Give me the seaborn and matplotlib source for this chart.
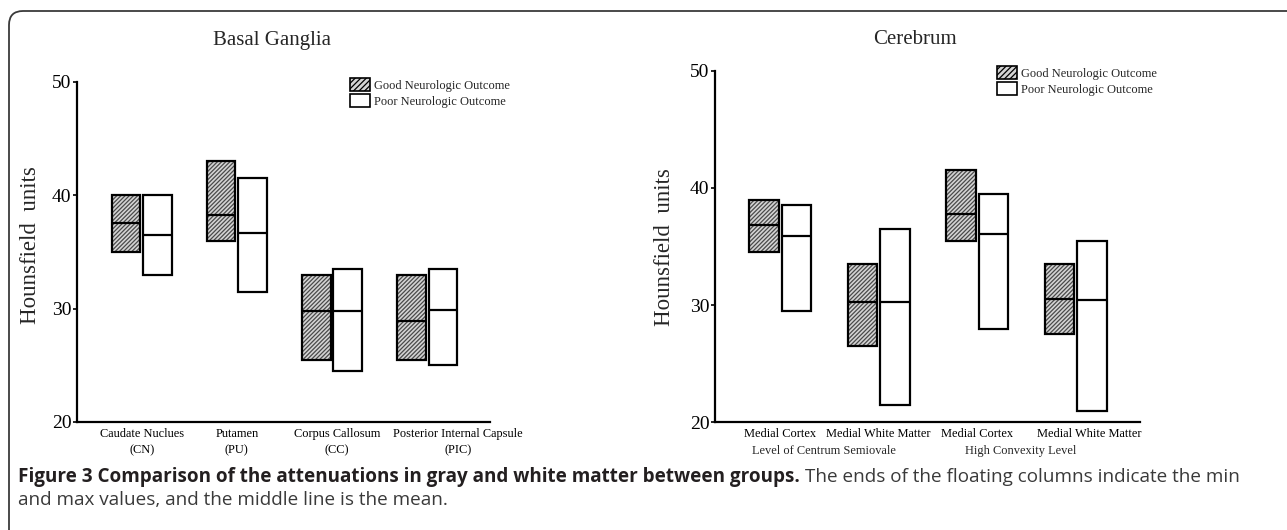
import matplotlib

matplotlib.use("Agg")

import matplotlib.pyplot as plt
import numpy as np
import seaborn as sns
from matplotlib.patches import FancyBboxPatch, Patch

# Basal ganglia: min / mean / max per region
bg_labels = ["Caudate Nuclues\n(CN)", "Putamen\n(PU)", "Corpus Callosum\n(CC)",
             "Posterior Internal Capsule\n(PIC)"]
bg_good_min = [35.0, 36.0, 25.5, 25.5]
bg_good_mean = [37.6, 38.3, 29.8, 28.9]
bg_good_max = [40.0, 43.0, 33.0, 33.0]
bg_poor_min = [33.0, 31.5, 24.5, 25.0]
bg_poor_mean = [36.5, 36.7, 29.8, 29.9]
bg_poor_max = [40.0, 41.5, 33.5, 33.5]

# Cerebrum
cb_labels = ["Medial Cortex", "Medial White Matter", "Medial Cortex", "Medial White Matter"]
cb_levels = ["Level of Centrum Semiovale", "High Convexity Level"]
cb_good_min = [34.5, 26.5, 35.5, 27.5]
cb_good_mean = [36.8, 30.3, 37.8, 30.5]
cb_good_max = [39.0, 33.5, 41.5, 33.5]
cb_poor_min = [29.5, 21.5, 28.0, 21.0]
cb_poor_mean = [35.9, 30.3, 36.1, 30.4]
cb_poor_max = [38.5, 36.5, 39.5, 35.5]

sns.set_theme(style="ticks")
plt.rcParams["font.family"] = ["Liberation Serif", "DejaVu Serif"]
plt.rcParams["hatch.linewidth"] = 0.9

W, H = 1287, 530
fig = plt.figure(figsize=(W / 100, H / 100), dpi=100)

BAR_W = 0.3
OFF = 0.165
LBL = 8.9


def floating(ax, pos, lo, mean, hi, good):
    lo, mean, hi = map(np.asarray, (lo, mean, hi))
    if good:
        ax.bar(pos, hi - lo, bottom=lo, width=BAR_W, color="#d4d4d4",
               edgecolor="#4a4a4a", hatch="////////", linewidth=0, zorder=2)
    else:
        ax.bar(pos, hi - lo, bottom=lo, width=BAR_W, color="white",
               linewidth=0, zorder=2)
    ax.bar(pos, hi - lo, bottom=lo, width=BAR_W, fill=False,
           edgecolor="black", linewidth=1.6, zorder=3)
    ax.hlines(mean, pos - BAR_W / 2, pos + BAR_W / 2, color="black",
              linewidth=1.6, zorder=4)


def style_axis(ax, xlim):
    ax.set_xlim(*xlim)
    ax.set_ylim(20, 50)
    ax.set_yticks([20, 30, 40, 50])
    ax.tick_params(axis="y", labelsize=14, length=3, width=1.2, pad=1,
                   color="black", labelcolor="black")
    ax.tick_params(axis="x", length=0, labelsize=LBL, pad=4, labelcolor="black")
    for s in ["top", "right"]:
        ax.spines[s].set_visible(False)
    for s in ["left", "bottom"]:
        ax.spines[s].set_linewidth(1.6)
        ax.spines[s].set_color("black")
    ax.set_facecolor("white")


legend_handles = [
    Patch(facecolor="#d4d4d4", edgecolor="black", hatch="//////", linewidth=1.2,
          label="Good Neurologic Outcome"),
    Patch(facecolor="white", edgecolor="black", linewidth=1.2,
          label="Poor Neurologic Outcome"),
]
legend_kw = dict(loc="upper left", bbox_transform=fig.transFigure, frameon=False,
                 fontsize=9, handlelength=1.6, handleheight=1.2,
                 handletextpad=0.3, labelspacing=0.2, borderpad=0, borderaxespad=0)

# left panel
ax1 = fig.add_axes([77 / W, 108 / H, 413 / W, 340 / H])
x1 = np.arange(len(bg_labels))
floating(ax1, x1 - OFF, bg_good_min, bg_good_mean, bg_good_max, True)
floating(ax1, x1 + OFF, bg_poor_min, bg_poor_mean, bg_poor_max, False)
style_axis(ax1, (-0.68, 3.66))
ax1.set_xticks(x1 + np.array([0, 0, 0.05, 0.32]))
ax1.set_xticklabels(bg_labels, linespacing=1.55)
ax1.legend(handles=legend_handles, bbox_to_anchor=(350 / W, 1 - 78 / H), **legend_kw)

# right panel
ax2 = fig.add_axes([715 / W, 107.7 / H, 425 / W, 351.6 / H])
x2 = np.arange(len(cb_labels))
floating(ax2, x2 - OFF, cb_good_min, cb_good_mean, cb_good_max, True)
floating(ax2, x2 + OFF, cb_poor_min, cb_poor_mean, cb_poor_max, False)
style_axis(ax2, (-0.66, 3.65))
ax2.set_xticks(x2 + np.array([0, 0, 0, 0.14]))
ax2.set_xticklabels(cb_labels)
for i, lvl in enumerate(cb_levels):
    ax2.text(2 * i + 0.44, -0.064, lvl, transform=ax2.get_xaxis_transform(),
             ha="center", va="top", fontsize=LBL)
ax2.legend(handles=legend_handles, bbox_to_anchor=(997 / W, 1 - 66 / H), **legend_kw)

# titles and y labels
fig.text(272 / W, 1 - 40 / H, "Basal Ganglia", ha="center", va="center", fontsize=15)
fig.text(915 / W, 1 - 40 / H, "Cerebrum", ha="center", va="center", fontsize=15)
fig.text(30 / W, 1 - 245 / H, "Hounsfield  units", rotation=90, ha="center",
         va="center", fontsize=16.5)
fig.text(665 / W, 1 - 247 / H, "Hounsfield  units", rotation=90, ha="center",
         va="center", fontsize=16.5)

# rounded frame
frame = FancyBboxPatch((9, -60), 1400, H - 11 + 60, boxstyle="round,pad=0,rounding_size=14",
                       transform=None, fill=False, edgecolor="#3a3a3a", linewidth=1.3)
fig.patches.append(frame)

# caption
cap_font = ["Open Sans", "DejaVu Sans"]
cap_size = 13.6
fig.canvas.draw()
t1 = fig.text(18 / W, 1 - 477 / H,
              "Figure 3 Comparison of the attenuations in gray and white matter between groups.",
              family=cap_font, fontweight="bold", fontsize=cap_size, color="#231f20",
              va="center", ha="left")
fig.canvas.draw()
bb = t1.get_window_extent()
fig.text((bb.x1 + 5) / W, 1 - 477 / H,
         "The ends of the floating columns indicate the min",
         family=cap_font, fontsize=cap_size, color="#3a3a3a", va="center", ha="left")
fig.text(18 / W, 1 - 500 / H, "and max values, and the middle line is the mean.",
         family=cap_font, fontsize=cap_size, color="#3a3a3a", va="center", ha="left")

fig.savefig("out.png", dpi=100, facecolor="white")
